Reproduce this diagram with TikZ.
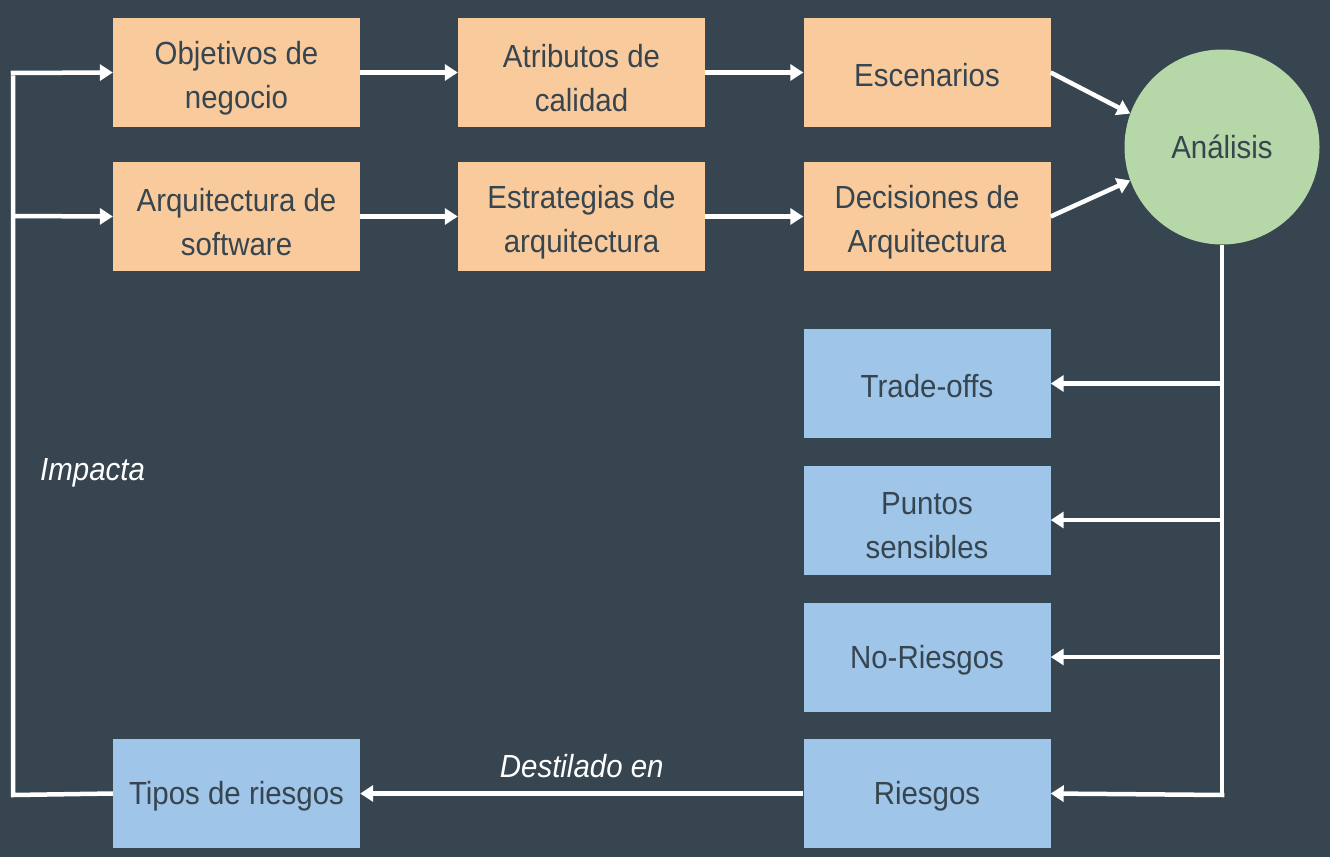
\documentclass[tikz,border=0pt]{standalone}
\usepackage{fontspec}
\setmainfont{Liberation Sans}[FakeStretch=0.92]
\usetikzlibrary{arrows.meta}
\definecolor{bg}{HTML}{36454F}
\definecolor{orng}{HTML}{F9CB9C}
\definecolor{blu}{HTML}{9FC5E8}
\definecolor{grn}{HTML}{B6D7A8}
\definecolor{txt}{HTML}{36454F}
\tikzset{
  box/.style={minimum width=247pt,minimum height=109pt,inner sep=0pt},
  obox/.style={box,fill=orng},
  bbox/.style={box,fill=blu},
  btext/.style={inner sep=0pt,align=center,text=txt,font=\fontsize{32}{44}\selectfont},
  one/.style={btext,yshift=-3pt},
  two/.style={btext,yshift=-5.5pt},
  conn/.style={draw=white,line width=4.5pt,-{Triangle[width=16pt,length=13pt]}},
  line/.style={draw=white,line width=4.5pt},
  lbl/.style={text=white,font=\itshape\fontsize{32}{38}\selectfont,inner sep=0pt}
}
\begin{document}
\begin{tikzpicture}[x=1pt,y=-1pt]
\fill[bg] (0,0) rectangle (1330,857);
\useasboundingbox (0,0) rectangle (1330,857);
\node[obox,label={[two]center:Objetivos de\\negocio}] (obj) at (236.5,72.5) {};
\node[obox,label={[two]center:Atributos de\\calidad}] (atr) at (581.5,72.5) {};
\node[obox,label={[one]center:Escenarios}] (esc) at (927,72.5) {};
\node[obox,label={[two]center:Arquitectura de\\software}] (arq) at (236.5,216.5) {};
\node[obox,label={[two]center:Estrategias de\\arquitectura}] (est) at (581.5,216.5) {};
\node[obox,label={[two]center:Decisiones de\\Arquitectura}] (dec) at (927,216.5) {};
\node[circle,fill=grn,minimum size=195pt,inner sep=0pt,text=txt,font=\fontsize{32}{38}\selectfont] (ana) at (1222,147) {Análisis};
\node[bbox,label={[one]center:Trade-offs}] (tra) at (927,383.5) {};
\node[bbox,label={[two]center:Puntos\\sensibles}] (pun) at (927,520) {};
\node[bbox,label={[one]center:No-Riesgos}] (nor) at (927,657) {};
\node[bbox,label={[one]center:Riesgos}] (rie) at (927,793.5) {};
\node[bbox,label={[one]center:Tipos de riesgos}] (tip) at (236.5,793.5) {};
\coordinate (bl) at (13,795);
\coordinate (tl) at (13,73);
\coordinate (ml) at (13,216);
\coordinate (cb) at (1222,795);
\draw[conn] (obj.east) -- (atr.west);
\draw[conn] (atr.east) -- (esc.west);
\draw[conn] (arq.east) -- (est.west);
\draw[conn] (est.east) -- (dec.west);
\draw[conn] (esc.east) -- (ana.160);
\draw[conn] (dec.east) -- (ana.200);
\draw[line] (ana.south) -- (cb);
\draw[conn] (ana.south |- tra.east) -- (tra.east);
\draw[conn] (ana.south |- pun.east) -- (pun.east);
\draw[conn] (ana.south |- nor.east) -- (nor.east);
\draw[conn] ([xshift=2.25pt]cb) -- (rie.east);
\draw[conn] (rie.west) -- node[lbl,above=13pt] (dst) {Destilado en} (tip.east);
\draw[line,line join=miter] (tip.west) -- (bl) -- ([yshift=-2.25pt]tl);
\draw[conn] ([xshift=-2.25pt]tl) -- (obj.west);
\draw[conn] (ml) -- (arq.west);
\node[lbl,anchor=west] (imp) at (40,473) {Impacta};
\end{tikzpicture}
\end{document}
